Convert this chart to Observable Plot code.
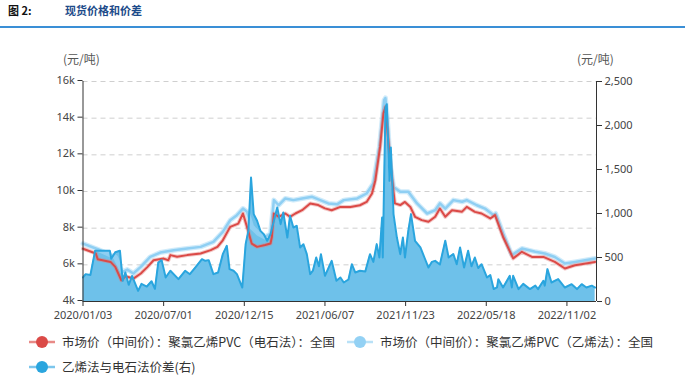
<!DOCTYPE html>
<html>
<head>
<meta charset="utf-8">
<script src="https://cdn.jsdelivr.net/npm/d3@7"></script>
<script src="https://cdn.jsdelivr.net/npm/@observablehq/plot@0.6"></script>
<style>
  body { margin: 0; background: #fff; }
  #wrap { position: relative; width: 685px; height: 375px; overflow: hidden; font-family: "Noto Sans CJK SC", "Noto Sans", sans-serif; }
  #title { position: absolute; left: 8px; top: 2px; font-size: 11px; font-weight: bold; white-space: nowrap; }
  #title .num { color: #111; }
  #title .txt { color: #1d4b8a; position: absolute; left: 57px; }
  #rule { position: absolute; left: 0; top: 26px; width: 685px; height: 2px; background: #3a8fd6; }
  .unit { position: absolute; top: 50px; font-size: 12px; color: #555; }
  #chart { position: absolute; left: 0; top: 0; }
  .leg { position: absolute; font-size: 12.5px; color: #333; white-space: nowrap; display: flex; align-items: center; }
  .leg svg { margin-right: 7px; }
</style>
</head>
<body>
<div id="wrap">
  <div id="title"><span class="num">图 2:</span><span class="txt">现货价格和价差</span></div>
  <div id="rule"></div>
  <div class="unit" style="left:63px;">(元/吨)</div>
  <div class="unit" style="left:577px;">(元/吨)</div>
  <div id="chart"></div>
  <div class="leg" style="left:29px; top:332px;">
    <svg width="26" height="14"><line x1="0" y1="7" x2="26" y2="7" stroke="#e88a87" stroke-width="2.5"/><circle cx="13" cy="7" r="6" fill="#db4a47"/></svg>
    <span>市场价（中间价）：聚氯乙烯PVC（电石法）：全国</span>
  </div>
  <div class="leg" style="left:347px; top:332px;">
    <svg width="26" height="14"><line x1="0" y1="7" x2="26" y2="7" stroke="#b9e1f7" stroke-width="2.5"/><circle cx="13" cy="7" r="6" fill="#93d1f4"/></svg>
    <span>市场价（中间价）：聚氯乙烯PVC（乙烯法）：全国</span>
  </div>
  <div class="leg" style="left:29px; top:357px;">
    <svg width="26" height="14"><line x1="0" y1="7" x2="26" y2="7" stroke="#7cc6ec" stroke-width="2.5"/><circle cx="13" cy="7" r="6" fill="#2aa5de"/></svg>
    <span>乙烯法与电石法价差(右)</span>
  </div>
</div>
<script>
// trading-day index of each tick and its label
const xTickDays = [0, 120, 240, 360, 480, 600, 720];
const xTickLabels = ["2020/01/03", "2020/07/01", "2020/12/15", "2021/06/07", "2021/11/23", "2022/05/18", "2022/11/02"];
const lastDay = 764;

const leftTicks = [4000, 6000, 8000, 10000, 12000, 14000, 16000];
const rightTicks = [0, 500, 1000, 1500, 2000, 2500];

// 市场价（中间价）：聚氯乙烯PVC（电石法）：全国  [day, 元/吨]
const carbide = [
  [0,6880],[19,6620],[22,6300],[41,6160],[48,5890],[57,5160],[63,5380],[75,5250],[86,5530],[96,5890],
  [105,6250],[120,6340],[127,6250],[130,6530],[140,6440],[155,6530],[175,6620],[190,6800],[200,6980],
  [208,7340],[219,8070],[231,8250],[238,8800],[244,8070],[251,7160],[259,6980],[271,7080],[279,7160],
  [281,7520],[284,8800],[291,8620],[301,8800],[308,8620],[316,8800],[326,8980],[338,9350],[350,9260],
  [360,9080],[370,8980],[383,9160],[398,9160],[412,9250],[422,9430],[430,9890],[435,10620],[442,12430],
  [447,14260],[450,14620],[455,12430],[460,10620],[464,9350],[472,9260],[479,9430],[487,9160],[494,8620],
  [504,8440],[514,8350],[524,8620],[531,9070],[539,8620],[549,8980],[564,8900],[571,9160],[583,8890],
  [593,8800],[606,8530],[613,8710],[625,7520],[640,6350],[653,6710],[668,6430],[685,6430],[702,6160],
  [717,5800],[732,5980],[762,6160]
];

// 市场价（中间价）：聚氯乙烯PVC（乙烯法）：全国  [day, 元/吨]
const ethylene = [
  [0,7160],[22,6850],[48,6430],[59,5610],[66,5740],[75,5530],[86,5890],[100,6430],[115,6670],[135,6800],
  [155,6890],[175,6980],[194,7250],[208,7800],[219,8430],[229,8710],[238,9070],[244,8900],[251,8070],
  [261,7710],[271,7520],[279,7710],[284,9530],[291,9250],[301,9620],[313,9530],[326,9620],[341,9710],
  [353,9530],[365,9350],[378,9300],[388,9530],[408,9620],[422,9890],[432,10440],[441,12430],[448,14980],
  [450,15100],[453,13890],[457,11530],[462,10250],[472,9980],[484,9980],[497,9350],[512,8800],[524,8980],
  [531,9350],[539,9070],[551,9530],[564,9440],[571,9530],[586,9250],[598,9070],[611,8710],[614,8800],
  [625,7710],[638,6530],[653,6890],[673,6710],[687,6620],[702,6430],[717,6070],[732,6160],[762,6350]
];

// 乙烯法与电石法价差(右)  [day, 元/吨]
const spread = [
  [0,273],[4,311],[11,300],[18,576],[26,576],[40,576],[42,485],[48,560],[55,576],[59,235],[63,330],
  [68,190],[73,290],[82,121],[87,200],[95,170],[102,230],[107,144],[112,443],[117,470],[123,273],
  [130,349],[142,254],[152,349],[159,310],[167,386],[177,481],[182,462],[187,470],[194,311],[201,330],
  [208,538],[214,633],[218,368],[224,350],[229,311],[237,159],[242,652],[246,803],[250,1409],[254,993],
  [259,917],[264,803],[269,765],[274,690],[279,765],[284,917],[289,1068],[294,879],[298,1011],[304,727],
  [308,974],[313,841],[318,860],[323,614],[328,650],[333,538],[338,311],[342,350],[347,500],[351,400],
  [354,538],[360,292],[370,462],[377,235],[383,273],[388,216],[395,250],[400,424],[405,330],[412,349],
  [420,340],[427,538],[432,450],[437,652],[441,500],[445,954],[446,500],[450,2204],[452,2242],[456,1371],
  [458,1749],[462,993],[467,727],[472,538],[476,727],[479,500],[484,803],[488,993],[494,690],[502,614],
  [508,500],[514,386],[519,450],[524,462],[531,420],[539,690],[544,500],[551,540],[556,424],[561,614],
  [567,386],[573,576],[578,400],[583,500],[588,380],[593,424],[601,273],[606,300],[611,141],[616,160],
  [618,254],[625,160],[635,292],[638,160],[640,292],[648,141],[655,200],[665,141],[673,180],[677,141],
  [685,235],[687,180],[691,368],[697,216],[707,254],[717,159],[727,197],[735,141],[742,197],[749,159],
  [757,180],[762,159]
];

// right axis (0–2,500) shares the plot height with left axis (4k–16k)
const toLeft = s => 4000 + s * (16000 - 4000) / 2500;
const fmtK = d => (d / 1000) + "k";
const fmtComma = d3.format(",");

const carbideData = carbide.map(([d, v]) => ({d, v}));
const ethyleneData = ethylene.map(([d, v]) => ({d, v}));
const spreadData = spread.map(([d, v]) => ({d, v: toLeft(v)}));

const chart = Plot.plot({
  width: 685,
  height: 330,
  marginTop: 81,
  marginBottom: 29,
  marginLeft: 82.5,
  marginRight: 89,
  style: { fontFamily: "'Noto Sans', 'Noto Sans CJK SC', sans-serif", fontSize: "11px", color: "#444", background: "transparent" },
  x: { type: "linear", domain: [0, lastDay] },
  y: { domain: [4000, 16000] },
  marks: [
    Plot.gridY(leftTicks.slice(1), { stroke: "#cfcfcf", strokeOpacity: 1, strokeDasharray: "5,4" }),
    Plot.areaY(spreadData, { x: "d", y1: 4000, y2: "v", fill: "#6ec1ea", fillOpacity: 1 }),
    Plot.lineY(ethyleneData, { x: "d", y: "v", stroke: "#a9daf6", strokeWidth: 5, strokeOpacity: 0.55 }),
    Plot.lineY(ethyleneData, { x: "d", y: "v", stroke: "#8fcff3", strokeWidth: 2.5 }),
    Plot.lineY(carbideData, { x: "d", y: "v", stroke: "#e27b78", strokeWidth: 4, strokeOpacity: 0.4 }),
    Plot.lineY(carbideData, { x: "d", y: "v", stroke: "#db4a47", strokeWidth: 2 }),
    Plot.lineY(spreadData, { x: "d", y: "v", stroke: "#2aa5de", strokeWidth: 2 }),
    Plot.ruleY([4000], { stroke: "#333" }),
    Plot.ruleX([0], { stroke: "#333" }),
    Plot.ruleX([lastDay], { stroke: "#333" }),
    Plot.axisY({ anchor: "left", ticks: leftTicks, tickFormat: fmtK, tickSize: 5, tickPadding: 3, dy: -1, label: null, stroke: "#333" }),
    Plot.axisY({ anchor: "right", ticks: rightTicks.map(toLeft), tickFormat: v => fmtComma(Math.round((v - 4000) * 2500 / 12000)), tickSize: 5, tickPadding: 3, label: null, stroke: "#333" }),
    Plot.axisX({ ticks: xTickDays, tickFormat: d => xTickLabels[xTickDays.indexOf(d)], tickSize: 5, tickPadding: 5, label: null, stroke: "#333" })
  ]
});
document.getElementById("chart").appendChild(chart);
</script>
</body>
</html>
